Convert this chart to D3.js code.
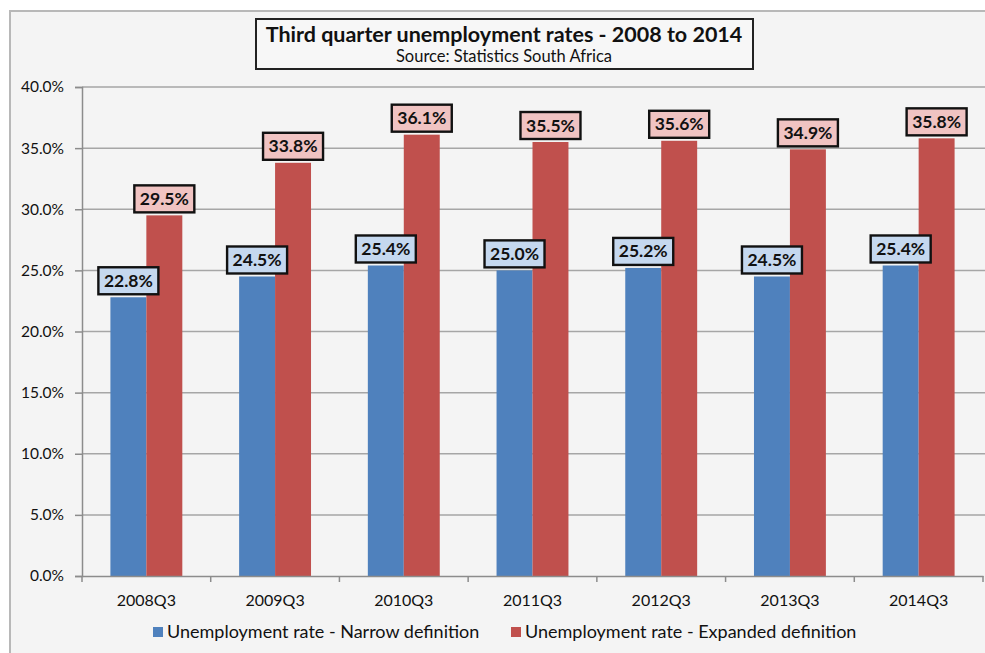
<!DOCTYPE html>
<html><head><meta charset="utf-8">
<script src="https://cdn.jsdelivr.net/npm/d3@7"></script>
<style>
body{margin:0;background:#fff;}
text{font-family:"Lato","Open Sans",sans-serif;}
</style></head>
<body><svg id="c" width="985" height="653"></svg>
<script>
const categories = ["2008Q3","2009Q3","2010Q3","2011Q3","2012Q3","2013Q3","2014Q3"];
const narrow = [22.8,24.5,25.4,25.0,25.2,24.5,25.4];
const expanded = [29.5,33.8,36.1,35.5,35.6,34.9,35.8];
const seriesNames = ["Unemployment rate - Narrow definition","Unemployment rate - Expanded definition"];
const yTicks = [0,5,10,15,20,25,30,35,40];
const titleText = "Third quarter unemployment rates - 2008 to 2014";
const subtitleText = "Source: Statistics South Africa";

const colors = ["#4f81bd","#c0504d"];
const labelFills = ["#c5d8ef","#f0c3c2"];

const svg = d3.select("#c");
svg.append("rect").attr("x",10).attr("y",11).attr("width",990).attr("height",660)
  .attr("fill","#f4f4f4").attr("stroke","#b8b8b8").attr("stroke-width",2);

const x0 = 82, x1 = 983, yTop = 87, yBot = 576;
const x = d3.scaleBand().domain(categories).range([x0,x1]).paddingInner(0).paddingOuter(0);
const y = d3.scaleLinear().domain([0,40]).range([yBot,yTop]);
const xs = d3.scaleBand().domain([0,1]).range([0,x.bandwidth()]).paddingInner(0).paddingOuter(0.79);

// gridlines
svg.append("g").selectAll("line").data(yTicks.filter(d=>d>0)).join("line")
  .attr("x1",x0).attr("x2",985).attr("y1",d=>y(d)).attr("y2",d=>y(d))
  .attr("stroke","#a6a6a6").attr("stroke-width",1.5);

// y axis
const ya = svg.append("g").attr("transform",`translate(${x0},0)`)
  .call(d3.axisLeft(y).tickValues(yTicks).tickFormat(d=>d.toFixed(1)+"%").tickSize(7).tickPadding(11));
ya.select(".domain").attr("stroke","#8c8c8c").attr("stroke-width",1.5);
ya.selectAll(".tick line").attr("stroke","#8c8c8c").attr("stroke-width",1.5);
ya.selectAll("text").attr("fill","#111").attr("font-size",15.5);

// bars
const data = categories.map((c,i)=>({c, v:[narrow[i],expanded[i]]}));
const g = svg.append("g");
data.forEach(d=>{
  d.v.forEach((v,s)=>{
    g.append("rect").attr("x",x(d.c)+xs(s)).attr("width",xs.bandwidth())
      .attr("y",y(v)).attr("height",y(0)-y(v)).attr("fill",colors[s]);
  });
});

// x axis
const xa = svg.append("g").attr("transform",`translate(0,${yBot})`)
  .call(d3.axisBottom(x).tickSize(0).tickPadding(19));
xa.select(".domain").attr("stroke","#8c8c8c").attr("stroke-width",1.5);
xa.selectAll("text").attr("fill","#111").attr("font-size",16);
svg.append("g").selectAll("line").data(d3.range(categories.length+1)).join("line")
  .attr("x1",i=>x0+i*x.step()).attr("x2",i=>x0+i*x.step())
  .attr("y1",yBot).attr("y2",yBot+6).attr("stroke","#8c8c8c").attr("stroke-width",1.5);

// data labels
data.forEach(d=>{
  d.v.forEach((v,s)=>{
    const cx = x(d.c)+xs(s)+xs.bandwidth()/2;
    const by = y(v)-3;
    const lg = svg.append("g");
    lg.append("rect").attr("x",cx-30).attr("y",by-27).attr("width",60).attr("height",27)
      .attr("fill",labelFills[s]).attr("stroke","#111").attr("stroke-width",2.4);
    lg.append("text").attr("x",cx).attr("y",by-7.5).attr("text-anchor","middle")
      .attr("font-size",17.5).attr("font-weight","bold").attr("fill","#111").text(v.toFixed(1)+"%");
  });
});

// title
svg.append("rect").attr("x",256).attr("y",19).attr("width",497).attr("height",50)
  .attr("fill","#f7f7f7").attr("stroke","#222").attr("stroke-width",2);
svg.append("text").attr("x",504).attr("y",42).attr("text-anchor","middle")
  .attr("font-size",21.5).attr("font-weight","bold").attr("fill","#111").text(titleText);
svg.append("text").attr("x",504).attr("y",62).attr("text-anchor","middle")
  .attr("font-size",16.5).attr("fill","#111").text(subtitleText);

// legend
const legX = [153,511];
seriesNames.forEach((n,i)=>{
  svg.append("rect").attr("x",legX[i]).attr("y",627).attr("width",10).attr("height",10).attr("fill",colors[i]);
  svg.append("text").attr("x",legX[i]+14).attr("y",638).attr("font-size",18).attr("fill","#111").text(n);
});
</script></body></html>
